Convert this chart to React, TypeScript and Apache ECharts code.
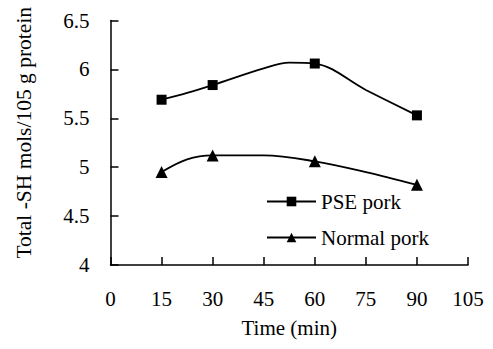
import React, { useEffect, useRef } from "react";
import * as echarts from "echarts";

const timePoints = [15, 22.5, 30, 45, 52.5, 60, 75, 90];
const psePork = [5.69, 5.76, 5.84, 6.01, 6.07, 6.06, 5.79, 5.53];
const pseMarked = [true, false, true, false, false, true, false, true];

const normalTime = [15, 22.5, 30, 45, 60, 75, 90];
const normalPork = [4.95, 5.08, 5.12, 5.12, 5.06, 4.95, 4.82];
const normalMarked = [true, false, true, false, true, false, true];

const seriesNames = ["PSE pork", "Normal pork"];
const xAxisTitle = "Time (min)";
const yAxisTitle = "Total -SH mols/105 g protein";

const FONT = "Times New Roman, Liberation Serif, Tinos, serif";

function build(xs: number[], ys: number[], marks: boolean[]) {
  return xs.map((x, i) => (marks[i] ? { value: [x, ys[i]] } : { value: [x, ys[i]], symbol: "none" }));
}

export default function App() {
  const ref = useRef<HTMLDivElement>(null);
  useEffect(() => {
    if (!ref.current) return;
    const chart = echarts.init(ref.current, undefined, { renderer: "svg" });
    const txt = { fontFamily: FONT, fontSize: 21, color: "#000", fontWeight: "normal" as const };
    chart.setOption({
      animation: false,
      backgroundColor: "#ffffff",
      textStyle: { fontFamily: FONT },
      grid: { left: 110.5, right: 25, top: 20.5, bottom: 84, containLabel: false },
      legend: {
        orient: "vertical",
        left: 261,
        top: 186,
        itemWidth: 49,
        itemHeight: 12,
        itemGap: 15,
        textStyle: txt,
        data: seriesNames,
      },
      xAxis: {
        type: "value",
        min: 0,
        max: 105,
        interval: 15,
        name: xAxisTitle,
        nameLocation: "middle",
        nameGap: 52,
        nameTextStyle: txt,
        axisLine: { lineStyle: { color: "#000", width: 1.5 } },
        axisTick: { inside: true, length: 8, lineStyle: { color: "#000", width: 1.5 } },
        axisLabel: { margin: 23, ...txt },
        splitLine: { show: false },
      },
      yAxis: {
        type: "value",
        min: 4,
        max: 6.5,
        interval: 0.5,
        name: yAxisTitle,
        nameLocation: "middle",
        nameGap: 76,
        nameTextStyle: { ...txt, fontSize: 21.5, padding: [0, 0, 0, 20] },
        axisLine: { show: true, lineStyle: { color: "#000", width: 1.5 } },
        axisTick: { show: true, inside: true, length: 8, lineStyle: { color: "#000", width: 1.5 } },
        axisLabel: { margin: 21, ...txt },
        splitLine: { show: false },
      },
      series: [
        {
          name: seriesNames[0],
          type: "line",
          smooth: 0.35,
          symbol: "rect",
          symbolSize: 10,
          itemStyle: { color: "#000" },
          lineStyle: { color: "#000", width: 1.8 },
          data: build(timePoints, psePork, pseMarked),
        },
        {
          name: seriesNames[1],
          type: "line",
          smooth: 0.35,
          symbol: "triangle",
          symbolSize: 12,
          itemStyle: { color: "#000" },
          lineStyle: { color: "#000", width: 1.8 },
          data: build(normalTime, normalPork, normalMarked),
        },
      ],
    });
    return () => chart.dispose();
  }, []);
  return (
    <div
      ref={ref}
      style={{ position: "absolute", left: 0, top: 0, width: 493, height: 349 }}
    />
  );
}
